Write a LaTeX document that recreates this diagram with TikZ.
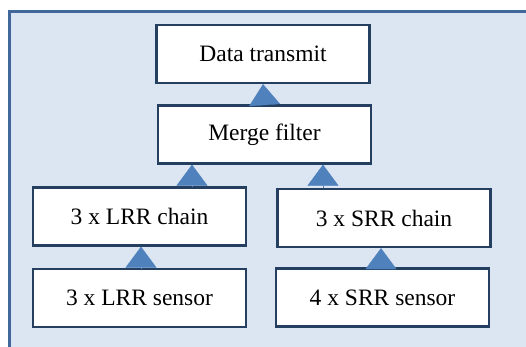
\documentclass[tikz,border=0pt]{standalone}
\usepackage{fontspec}
\setmainfont{Liberation Serif}
\usetikzlibrary{arrows.meta,calc}
\definecolor{framecol}{HTML}{41679B}
\definecolor{bgfill}{HTML}{DCE6F2}
\definecolor{boxcol}{HTML}{243F60}
\definecolor{tricol}{HTML}{4F81BD}
\begin{document}
\begin{tikzpicture}[x=1pt,y=1pt,
  box/.style={draw=boxcol,line width=2.3pt,fill=white,minimum width=213pt,minimum height=58pt,inner sep=0pt,font=\fontsize{23.5}{27}\selectfont},
  arr/.style={draw=tricol,line width=0.3pt,-{Triangle[width=31pt,length=21pt,fill=tricol]}}]
\useasboundingbox (0,0) rectangle (526,-347);
\fill[white] (0,0) rectangle (526,-347);
\draw[framecol,line width=3pt,fill=bgfill] (9.5,-11.5) rectangle (560,-380);
\node[box] (dt) at (263,-54) {Data transmit};
\node[box] (mf) at (264.5,-134.5) {Merge filter};
\node[box] (lc) at (139.5,-216.5) {3 x LRR chain};
\node[box] (sc) at (384,-218) {3 x SRR chain};
\node[box] (ls) at (139.5,-298) {3 x LRR sensor};
\node[box] (ss) at (382.5,-297.5) {4 x SRR sensor};
\draw[arr] (mf.north) -- (dt.south);
\draw[arr] ([xshift=52.5pt]lc.north) -- ([xshift=52.5pt]lc.north |- mf.south);
\draw[arr] ([xshift=-61pt]sc.north) -- ([xshift=-61pt]sc.north |- mf.south);
\draw[arr] ([xshift=1.5pt]ls.north) -- ([xshift=1.5pt]ls.north |- lc.south);
\draw[arr] ([xshift=-1.5pt]ss.north) -- ([xshift=-1.5pt]ss.north |- sc.south);
\end{tikzpicture}
\end{document}
